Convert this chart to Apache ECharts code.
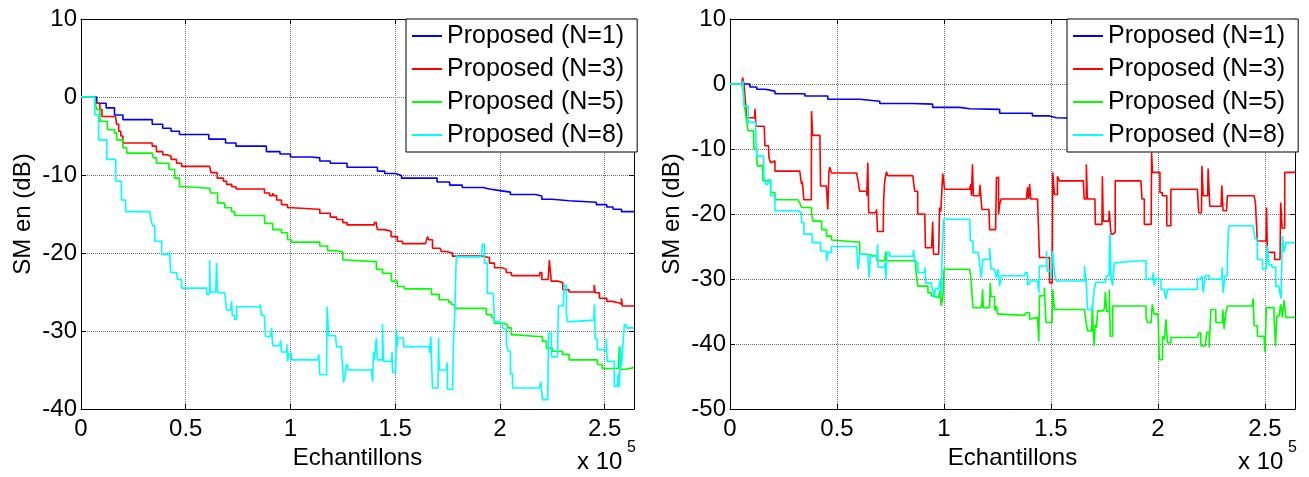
<!DOCTYPE html>
<html><head><meta charset="utf-8">
<script src="https://cdn.jsdelivr.net/npm/echarts@6/dist/echarts.min.js"></script>
<style>html,body{margin:0;padding:0;background:#fff}#c{width:1309px;height:477px}</style>
</head><body><div id="c"></div><script>
// ---------- DATA ----------
const seriesNames = ['Proposed (N=1)', 'Proposed (N=3)', 'Proposed (N=5)', 'Proposed (N=8)'];
const seriesColors = ['#0000ff', '#ff0000', '#00ff00', '#00ffff'];
const xAxisTitle = 'Echantillons';
const yAxisTitle = 'SM en (dB)';
const xExponent = '5';
const xMax = 2.64;            // in units of 1e5 samples
const leftY = [-40, 10];
const rightY = [-50, 10];

// x in units of 1e5 samples, y in dB
const leftN1 = [[0,0],[0.065,0],[0.075,-0.8],[0.12,-1.4],[0.16,-2.3],[0.20,-2.9],[0.34,-3.5],[0.39,-4.0],[0.43,-4.4],[0.47,-4.8],[0.61,-5.4],[0.69,-5.9],[0.74,-6.3],[0.885,-7.0],[0.95,-7.3],[1.0,-7.7],[1.10,-7.8],[1.14,-8.2],[1.19,-8.5],[1.27,-9.0],[1.415,-9.5],[1.45,-9.8],[1.50,-10.05],[1.53,-10.4],[1.70,-10.9],[1.76,-11.3],[1.82,-11.6],[1.92,-11.8],[1.95,-12.0],[2.0,-12.2],[2.05,-12.5],[2.17,-12.7],[2.2,-13.1],[2.25,-13.3],[2.33,-13.5],[2.46,-13.8],[2.51,-14.1],[2.54,-14.4],[2.58,-14.7],[2.64,-14.7]];
const leftN3 = [[0,0],[0.066,0],[0.07,-0.8],[0.09,-1.6],[0.10,-2.5],[0.165,-2.5],[0.17,-3.5],[0.18,-4.4],[0.19,-5.0],[0.20,-5.9],[0.33,-5.9],[0.34,-6.3],[0.36,-7.0],[0.39,-7.4],[0.41,-7.6],[0.43,-8.0],[0.456,-8.5],[0.48,-8.9],[0.614,-8.9],[0.62,-9.7],[0.65,-10.4],[0.68,-10.8],[0.695,-11.2],[0.72,-11.5],[0.74,-11.8],[0.86,-11.8],[0.876,-12.3],[0.90,-12.65],[0.915,-12.3],[0.92,-12.65],[0.934,-13.2],[0.957,-13.8],[0.986,-14.2],[1.01,-14.4],[1.13,-14.4],[1.14,-14.9],[1.19,-15.4],[1.22,-15.7],[1.25,-16.1],[1.27,-16.4],[1.39,-16.4],[1.40,-16.1],[1.41,-16.4],[1.415,-17.0],[1.45,-17.2],[1.48,-17.9],[1.51,-18.5],[1.535,-18.8],[1.645,-18.8],[1.654,-17.9],[1.66,-18.3],[1.678,-19.4],[1.715,-19.4],[1.72,-19.8],[1.745,-20.0],[1.773,-20.4],[1.92,-20.6],[1.95,-21.3],[1.974,-21.9],[2.012,-22.1],[2.03,-22.5],[2.055,-22.9],[2.17,-22.9],[2.19,-22.5],[2.2,-23.4],[2.23,-23.4],[2.236,-20.9],[2.245,-23.6],[2.275,-23.8],[2.30,-24.7],[2.33,-25.0],[2.44,-25.0],[2.45,-24.1],[2.455,-25.1],[2.475,-25.8],[2.51,-26.2],[2.537,-26.4],[2.57,-26.6],[2.58,-25.8],[2.585,-26.8],[2.64,-26.8]];
const leftN5 = [[0,0],[0.066,0],[0.07,-1.0],[0.075,-1.6],[0.09,-3.1],[0.125,-3.1],[0.127,-4.2],[0.16,-4.6],[0.17,-5.5],[0.2,-6.5],[0.218,-7.2],[0.34,-7.2],[0.345,-7.8],[0.36,-8.5],[0.42,-9.3],[0.447,-10.4],[0.47,-11.5],[0.495,-11.7],[0.614,-11.7],[0.62,-12.3],[0.652,-13.6],[0.686,-14.2],[0.719,-14.7],[0.733,-15.2],[0.852,-15.2],[0.855,-15.0],[0.86,-15.2],[0.876,-16.2],[0.915,-17.0],[0.957,-17.4],[0.986,-18.3],[1.005,-18.6],[1.13,-18.6],[1.14,-19.1],[1.177,-19.7],[1.22,-19.9],[1.25,-20.9],[1.268,-21.1],[1.40,-21.1],[1.41,-22.1],[1.44,-22.6],[1.482,-23.6],[1.51,-24.3],[1.544,-24.6],[1.65,-24.6],[1.673,-25.3],[1.71,-26.0],[1.755,-26.3],[1.768,-26.6],[1.783,-27.1],[1.917,-27.1],[1.935,-27.9],[1.96,-28.3],[1.973,-29.0],[2.02,-29.2],[2.036,-29.6],[2.055,-30.5],[2.083,-30.7],[2.18,-30.7],[2.203,-31.3],[2.222,-32.2],[2.25,-32.6],[2.298,-33.0],[2.33,-33.7],[2.44,-33.7],[2.465,-34.3],[2.488,-34.8],[2.565,-34.8],[2.57,-32.0],[2.575,-34.9],[2.6,-34.7],[2.64,-34.7]];
const leftN8 = [[0,0],[0.065,0],[0.066,-2.3],[0.084,-5.5],[0.123,-8.0],[0.166,-10.8],[0.193,-13.2],[0.213,-14.7],[0.328,-14.7],[0.333,-14.5],[0.335,-15.9],[0.342,-16.5],[0.352,-18.5],[0.385,-20.2],[0.42,-20.2],[0.423,-19.8],[0.428,-22.5],[0.456,-22.5],[0.461,-23.4],[0.48,-24.5],[0.59,-24.5],[0.6,-25.3],[0.609,-25.3],[0.614,-20.9],[0.617,-25.0],[0.643,-25.0],[0.647,-21.3],[0.652,-25.1],[0.686,-25.1],[0.695,-27.3],[0.714,-27.3],[0.719,-26.2],[0.722,-28.0],[0.733,-28.5],[0.743,-26.9],[0.852,-26.9],[0.855,-26.6],[0.862,-28.0],[0.876,-28.6],[0.881,-30.7],[0.905,-30.7],[0.91,-29.6],[0.915,-31.9],[0.948,-31.9],[0.953,-31.2],[0.957,-32.7],[0.981,-32.7],[0.983,-31.7],[0.986,-33.9],[0.993,-32.9],[1.005,-33.7],[1.13,-33.7],[1.135,-33.0],[1.14,-35.6],[1.172,-35.6],[1.175,-26.9],[1.182,-30.6],[1.215,-30.6],[1.22,-32.0],[1.244,-33.2],[1.248,-34.0],[1.253,-36.6],[1.262,-35.6],[1.268,-34.2],[1.277,-35.0],[1.387,-35.0],[1.392,-36.5],[1.397,-32.7],[1.401,-33.7],[1.41,-30.9],[1.415,-33.7],[1.439,-29.1],[1.444,-33.9],[1.482,-33.9],[1.485,-32.7],[1.487,-35.3],[1.502,-35.3],[1.506,-29.8],[1.51,-32.0],[1.513,-30.9],[1.54,-32.0],[1.654,-32.0],[1.664,-32.8],[1.67,-30.7],[1.678,-37.3],[1.704,-37.3],[1.707,-30.9],[1.71,-35.0],[1.745,-35.0],[1.748,-34.0],[1.75,-37.5],[1.774,-37.2],[1.778,-31.5],[1.785,-27.5],[1.788,-23.9],[1.792,-20.2],[1.797,-20.5],[1.912,-20.5],[1.916,-18.9],[1.926,-21.3],[1.94,-25.2],[1.95,-25.2],[1.969,-26.0],[1.974,-28.8],[2.0,-29.0],[2.012,-29.6],[2.021,-29.8],[2.031,-31.9],[2.04,-32.6],[2.05,-35.5],[2.06,-37.3],[2.188,-37.3],[2.195,-36.5],[2.203,-38.8],[2.228,-38.8],[2.232,-30.3],[2.246,-33.3],[2.275,-33.3],[2.279,-26.8],[2.302,-26.8],[2.307,-24.1],[2.317,-27.7],[2.322,-28.8],[2.341,-28.6],[2.448,-28.6],[2.451,-26.6],[2.455,-31.0],[2.465,-32.4],[2.498,-32.6],[2.508,-31.0],[2.512,-33.9],[2.536,-33.9],[2.546,-37.1],[2.56,-37.2],[2.565,-35.5],[2.57,-37.2],[2.575,-32.0],[2.58,-34.5],[2.589,-31.0],[2.594,-29.2],[2.604,-29.6],[2.64,-29.6]];

const rightN1 = [[0,0],[0.08,0],[0.093,-0.45],[0.125,-0.8],[0.163,-1.1],[0.21,-1.5],[0.35,-1.85],[0.457,-2.35],[0.606,-2.65],[0.70,-3.0],[0.854,-3.1],[0.947,-3.6],[1.073,-3.8],[1.12,-3.9],[1.26,-4.5],[1.413,-4.9],[1.49,-5.2],[1.525,-5.4],[1.75,-5.9],[2.0,-6.5],[2.3,-7.0],[2.64,-7.5]];
const rightN3 = [[0,0],[0.055,0],[0.059,1.0],[0.065,0],[0.07,-1.85],[0.078,-5.2],[0.115,-5.2],[0.117,-3.8],[0.121,-6.5],[0.16,-6.5],[0.163,-9.5],[0.18,-9.5],[0.182,-11.3],[0.19,-12.1],[0.194,-11.8],[0.21,-13.4],[0.326,-13.4],[0.334,-15.4],[0.338,-15.0],[0.345,-17.8],[0.38,-17.8],[0.381,-4.15],[0.386,-7.9],[0.42,-7.9],[0.423,-15.7],[0.45,-15.7],[0.457,-19.3],[0.462,-13.6],[0.466,-12.8],[0.474,-13.7],[0.592,-13.7],[0.597,-13.4],[0.6,-15.3],[0.606,-16.5],[0.639,-17.2],[0.644,-12.1],[0.648,-19.8],[0.681,-19.8],[0.685,-19.3],[0.689,-22.7],[0.716,-22.7],[0.718,-17.8],[0.723,-14.9],[0.731,-13.5],[0.737,-14.1],[0.854,-14.1],[0.858,-13.8],[0.863,-16.5],[0.877,-20.0],[0.91,-20.0],[0.913,-25.2],[0.942,-25.2],[0.947,-21.2],[0.951,-26.2],[0.975,-26.2],[0.979,-19.0],[0.985,-19.6],[0.994,-13.8],[1.003,-16.2],[1.12,-16.2],[1.125,-15.4],[1.128,-17.2],[1.133,-12.35],[1.137,-17.2],[1.165,-17.2],[1.168,-15.5],[1.177,-19.3],[1.21,-19.3],[1.213,-22.4],[1.241,-22.4],[1.245,-14.4],[1.255,-20.0],[1.26,-18.5],[1.267,-17.7],[1.385,-17.7],[1.39,-15.9],[1.395,-17.7],[1.4,-15.4],[1.405,-17.7],[1.437,-17.7],[1.446,-26.7],[1.483,-26.7],[1.493,-30.6],[1.506,-30.6],[1.508,-13.6],[1.516,-17.0],[1.53,-14.2],[1.539,-14.9],[1.651,-14.9],[1.655,-17.7],[1.665,-12.35],[1.67,-17.7],[1.705,-17.7],[1.707,-21.6],[1.738,-21.6],[1.74,-14.2],[1.744,-21.1],[1.77,-21.1],[1.772,-19.5],[1.78,-23.1],[1.79,-22.8],[1.8,-14.9],[1.92,-14.9],[1.925,-17.7],[1.936,-21.6],[1.968,-21.6],[1.97,-10.55],[1.974,-13.6],[2.009,-16.7],[2.02,-17.2],[2.041,-21.8],[2.05,-21.8],[2.06,-16.2],[2.184,-16.2],[2.19,-19.8],[2.203,-19.8],[2.205,-12.6],[2.211,-17.2],[2.232,-17.2],[2.234,-13.0],[2.242,-18.8],[2.295,-18.8],[2.298,-15.6],[2.304,-19.5],[2.32,-19.5],[2.324,-17.2],[2.449,-17.2],[2.455,-18.25],[2.464,-24.15],[2.505,-24.15],[2.507,-19.0],[2.511,-25.9],[2.545,-27.0],[2.57,-27.0],[2.573,-18.25],[2.58,-22.2],[2.592,-13.6],[2.64,-13.6]];
const rightN5 = [[0,0],[0.055,0],[0.062,-1.0],[0.07,-3.9],[0.078,-5.7],[0.084,-7.2],[0.11,-7.2],[0.112,-10.0],[0.125,-11.8],[0.127,-12.6],[0.152,-12.6],[0.154,-14.9],[0.19,-16.7],[0.21,-17.8],[0.317,-17.8],[0.326,-18.3],[0.334,-19.0],[0.381,-19.8],[0.387,-21.1],[0.404,-21.1],[0.428,-22.4],[0.451,-23.4],[0.474,-24.0],[0.482,-24.3],[0.592,-24.3],[0.606,-26.2],[0.639,-26.5],[0.687,-27.2],[0.723,-27.2],[0.728,-25.8],[0.732,-27.2],[0.854,-27.2],[0.868,-28.5],[0.871,-29.5],[0.878,-31.1],[0.914,-31.1],[0.925,-32.1],[0.941,-32.6],[0.951,-32.9],[0.975,-32.9],[0.98,-31.8],[0.983,-32.6],[0.987,-34.15],[0.995,-32.5],[1.0,-28.5],[1.12,-28.5],[1.127,-30.3],[1.135,-34.4],[1.176,-34.4],[1.18,-31.6],[1.184,-34.4],[1.213,-34.4],[1.216,-30.6],[1.22,-32.7],[1.236,-34.9],[1.244,-34.15],[1.251,-35.4],[1.267,-35.6],[1.376,-35.6],[1.385,-35.2],[1.4,-36.2],[1.407,-35.9],[1.437,-35.9],[1.443,-39.6],[1.446,-32.6],[1.458,-32.4],[1.469,-31.3],[1.473,-34.5],[1.477,-36.7],[1.505,-36.7],[1.508,-31.6],[1.516,-34.7],[1.656,-34.7],[1.664,-36.7],[1.671,-38.0],[1.69,-38.0],[1.693,-34.0],[1.697,-37.5],[1.702,-40.3],[1.706,-37.0],[1.712,-37.5],[1.718,-34.9],[1.745,-34.9],[1.75,-34.4],[1.754,-32.0],[1.76,-35.0],[1.772,-31.6],[1.777,-38.8],[1.788,-34.15],[1.92,-34.15],[1.944,-35.9],[1.951,-36.7],[1.968,-36.7],[1.973,-33.9],[1.982,-35.4],[2.0,-35.4],[2.006,-42.4],[2.021,-38.8],[2.03,-39.3],[2.037,-36.2],[2.044,-39.8],[2.06,-39.0],[2.184,-39.0],[2.19,-38.3],[2.2,-40.3],[2.22,-40.0],[2.228,-38.2],[2.239,-40.55],[2.247,-34.7],[2.27,-36.7],[2.3,-36.7],[2.303,-34.7],[2.309,-37.7],[2.317,-35.2],[2.324,-34.15],[2.44,-34.15],[2.445,-33.0],[2.449,-37.2],[2.464,-38.8],[2.495,-38.8],[2.5,-41.3],[2.506,-34.4],[2.542,-35.7],[2.549,-40.3],[2.555,-35.7],[2.565,-35.7],[2.573,-33.9],[2.581,-35.9],[2.589,-33.3],[2.597,-35.9],[2.64,-35.9]];
const rightN8 = [[0,0],[0.058,0],[0.06,0.5],[0.065,-3.4],[0.085,-5.9],[0.12,-5.9],[0.121,-8.5],[0.125,-11.1],[0.157,-11.1],[0.159,-14.7],[0.168,-15.4],[0.178,-15.4],[0.18,-14.7],[0.19,-17.2],[0.21,-19.5],[0.317,-19.5],[0.325,-19.8],[0.334,-21.3],[0.345,-23.1],[0.384,-24.4],[0.423,-25.7],[0.451,-27.2],[0.458,-25.9],[0.474,-25.0],[0.592,-25.0],[0.598,-28.5],[0.606,-26.2],[0.644,-26.5],[0.65,-29.8],[0.656,-26.5],[0.686,-26.5],[0.69,-24.7],[0.692,-28.2],[0.723,-27.5],[0.728,-30.0],[0.734,-25.9],[0.746,-26.5],[0.854,-26.5],[0.858,-25.5],[0.863,-27.5],[0.878,-29.0],[0.91,-29.0],[0.912,-28.2],[0.914,-30.6],[0.941,-31.0],[0.948,-31.8],[0.956,-32.9],[0.96,-31.5],[0.975,-31.7],[0.983,-30.0],[0.987,-32.6],[0.992,-25.4],[0.998,-20.8],[1.12,-20.8],[1.123,-24.15],[1.135,-25.9],[1.16,-25.9],[1.166,-27.5],[1.174,-29.8],[1.181,-27.0],[1.203,-27.0],[1.213,-25.2],[1.22,-28.5],[1.236,-28.7],[1.244,-29.8],[1.252,-28.5],[1.26,-31.1],[1.267,-29.5],[1.376,-29.5],[1.38,-29.0],[1.39,-30.8],[1.4,-30.3],[1.437,-30.3],[1.443,-32.1],[1.446,-28.0],[1.479,-25.7],[1.482,-28.8],[1.5,-30.0],[1.508,-25.7],[1.516,-29.0],[1.524,-30.3],[1.646,-30.3],[1.656,-28.0],[1.664,-30.5],[1.671,-34.7],[1.693,-34.8],[1.702,-31.6],[1.71,-30.5],[1.754,-30.3],[1.76,-29.5],[1.772,-26.5],[1.776,-22.9],[1.78,-29.8],[1.788,-31.0],[1.796,-27.5],[1.804,-27.2],[1.92,-27.2],[1.944,-30.0],[1.973,-30.2],[1.978,-29.0],[1.982,-31.0],[1.99,-30.0],[2.014,-31.6],[2.03,-32.0],[2.037,-33.1],[2.044,-31.6],[2.068,-31.6],[2.184,-30.0],[2.2,-30.0],[2.205,-29.5],[2.211,-32.1],[2.22,-29.5],[2.239,-30.0],[2.298,-30.0],[2.3,-28.2],[2.304,-32.1],[2.313,-29.5],[2.324,-27.0],[2.329,-22.4],[2.332,-21.8],[2.444,-21.8],[2.453,-23.8],[2.464,-27.0],[2.488,-28.5],[2.505,-28.7],[2.511,-24.9],[2.518,-27.8],[2.532,-28.2],[2.55,-31.1],[2.565,-31.1],[2.569,-32.1],[2.575,-33.0],[2.581,-23.4],[2.589,-25.9],[2.597,-24.4],[2.64,-24.4]];

const leftData = [leftN1, leftN3, leftN5, leftN8];
const rightData = [rightN1, rightN3, rightN5, rightN8];

// ---------- CHART ----------
const FONT = '"Liberation Sans", Arial, Helvetica, sans-serif';
const BLACK = '#000';
const chart = echarts.init(document.getElementById('c'), null, { renderer: 'canvas' });

const grids = [
  { left: 81, top: 19, width: 553, height: 390 },
  { left: 730, top: 19, width: 565, height: 390 }
];
const yRanges = [leftY, rightY];

function fmtX(v) { return Math.abs(v - xMax) < 1e-9 ? '' : String(+v.toFixed(1)); }

const xAxes = [], yAxes = [];
grids.forEach((g, gi) => {
  xAxes.push({
    type: 'value', gridIndex: gi, min: 0, max: xMax, interval: 0.5, position: 'bottom',
    name: xAxisTitle, nameLocation: 'middle', nameGap: 26,
    nameTextStyle: { fontSize: 24, color: BLACK, fontFamily: FONT },
    axisLine: { show: true, onZero: false, lineStyle: { color: BLACK, width: 1 } },
    axisTick: { show: true, inside: true, length: 5, lineStyle: { color: BLACK } },
    axisLabel: { fontSize: 24, color: BLACK, fontFamily: FONT, margin: 8, formatter: fmtX, showMaxLabel: false },
    splitLine: { show: true, lineStyle: { color: '#6e6e6e', type: 'dotted', width: 1 } }
  });
  xAxes.push({
    type: 'value', gridIndex: gi, min: 0, max: xMax, interval: 0.5, position: 'top',
    axisLine: { show: true, onZero: false, lineStyle: { color: BLACK, width: 1 } },
    axisTick: { show: true, inside: true, length: 5, lineStyle: { color: BLACK } },
    axisLabel: { show: false }, splitLine: { show: false }
  });
  yAxes.push({
    type: 'value', gridIndex: gi, min: yRanges[gi][0], max: yRanges[gi][1], interval: 10, position: 'left',
    name: yAxisTitle, nameLocation: 'middle', nameGap: 46, nameRotate: 90,
    nameTextStyle: { fontSize: 24, color: BLACK, fontFamily: FONT },
    axisLine: { show: true, onZero: false, lineStyle: { color: BLACK, width: 1 } },
    axisTick: { show: true, inside: true, length: 5, lineStyle: { color: BLACK } },
    axisLabel: { fontSize: 24, color: BLACK, fontFamily: FONT, margin: 4 },
    splitLine: { show: true, lineStyle: { color: '#6e6e6e', type: 'dotted', width: 1 } }
  });
  yAxes.push({
    type: 'value', gridIndex: gi, min: yRanges[gi][0], max: yRanges[gi][1], interval: 10, position: 'right',
    axisLine: { show: true, onZero: false, lineStyle: { color: BLACK, width: 1 } },
    axisTick: { show: true, inside: true, length: 5, lineStyle: { color: BLACK } },
    axisLabel: { show: false }, splitLine: { show: false }
  });
});

const series = [];
[leftData, rightData].forEach((set, gi) => {
  set.forEach((d, i) => {
    series.push({
      name: seriesNames[i], type: 'line', step: 'end',
      xAxisIndex: gi * 2, yAxisIndex: gi * 2,
      data: d, symbol: 'none', showSymbol: false, clip: true,
      lineStyle: { color: seriesColors[i], width: 1.6 },
      itemStyle: { color: seriesColors[i] },
      emphasis: { disabled: true }, animation: false
    });
  });
});

function legendAt(left) {
  return {
    data: seriesNames, orient: 'vertical', left: left, top: 19,
    icon: 'rect', itemWidth: 30, itemHeight: 2, itemGap: 7, padding: [4, 13, 4, 6],
    backgroundColor: '#fff', borderColor: BLACK, borderWidth: 1,
    textStyle: { fontSize: 25, lineHeight: 26, color: BLACK, fontFamily: FONT },
    selectedMode: false, z: 20
  };
}

function expLabel(x10Left, supLeft) {
  return [
    { type: 'text', left: x10Left, top: 450, z: 30,
      style: { text: 'x 10', fontSize: 24, fill: BLACK, fontFamily: FONT } },
    { type: 'text', left: supLeft, top: 440, z: 30,
      style: { text: xExponent, fontSize: 16, fill: BLACK, fontFamily: FONT } }
  ];
}

chart.setOption({
  animation: false,
  backgroundColor: '#fff',
  grid: grids,
  xAxis: xAxes,
  yAxis: yAxes,
  legend: [legendAt(406), legendAt(1067)],
  series: series,
  graphic: expLabel(577, 627).concat(expLabel(1238, 1288))
});
</script></body></html>
